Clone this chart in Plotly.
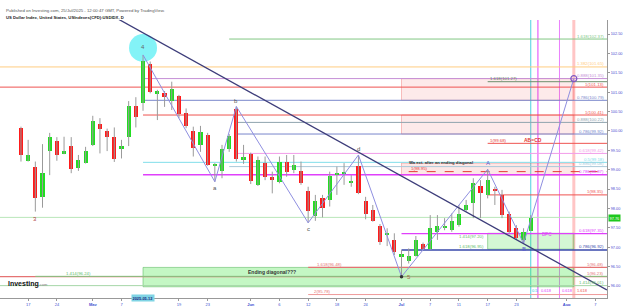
import plotly.graph_objects as go

# ---------------- data ----------------
dates = ["2025-04-16","2025-04-17","2025-04-21","2025-04-22","2025-04-23","2025-04-24","2025-04-25",
         "2025-04-28","2025-04-29","2025-04-30","2025-05-01","2025-05-02","2025-05-05","2025-05-06",
         "2025-05-07","2025-05-08","2025-05-09","2025-05-12","2025-05-13","2025-05-14","2025-05-15",
         "2025-05-16","2025-05-19","2025-05-20","2025-05-21","2025-05-22","2025-05-23","2025-05-26",
         "2025-05-27","2025-05-28","2025-05-29","2025-05-30","2025-06-02","2025-06-03","2025-06-04",
         "2025-06-05","2025-06-06","2025-06-09","2025-06-10","2025-06-11","2025-06-12","2025-06-13",
         "2025-06-16","2025-06-17","2025-06-18","2025-06-19","2025-06-20","2025-06-23","2025-06-24",
         "2025-06-25","2025-06-26","2025-06-27","2025-06-30","2025-07-01","2025-07-02","2025-07-03",
         "2025-07-04","2025-07-07","2025-07-08","2025-07-09","2025-07-10","2025-07-11","2025-07-14",
         "2025-07-15","2025-07-16","2025-07-17","2025-07-18","2025-07-21","2025-07-22","2025-07-23",
         "2025-07-24","2025-07-25"]
future_dates = ["2025-07-28","2025-07-29","2025-07-30","2025-07-31","2025-08-01","2025-08-04",
                "2025-08-05","2025-08-06","2025-08-07","2025-08-08"]

opens = [100.07,99.23,99.08,98.30,99.48,99.75,99.41,99.61,99.05,99.18,99.65,100.18,100.00,99.84,
         99.53,99.85,100.65,100.71,101.73,100.96,100.97,100.78,100.91,100.46,100.00,99.65,99.89,99.10,
         98.97,99.53,100.56,99.25,99.41,98.60,99.17,98.80,98.69,99.19,98.98,98.96,98.46,97.81,
         98.26,98.22,98.88,98.90,98.68,99.10,98.18,97.96,97.56,97.34,97.19,96.77,96.64,96.77,
         97.08,96.95,97.40,97.51,97.44,97.57,97.96,98.13,98.58,98.35,98.49,98.35,97.85,97.49,
         97.19,97.43]
highs = [100.11,99.77,99.21,99.66,99.95,99.84,99.85,99.84,99.38,99.59,100.39,100.33,100.06,100.09,
         99.77,100.77,100.87,101.96,101.79,101.06,101.03,101.27,100.93,100.58,100.11,100.13,99.95,99.17,
         99.64,99.92,100.63,99.64,99.44,99.34,99.34,98.95,99.34,99.38,99.38,99.21,98.56,98.35,
         98.35,98.95,99.08,99.17,98.86,99.38,98.30,98.09,97.60,97.49,97.36,96.93,96.97,97.29,
         97.12,97.83,97.83,97.75,97.87,98.09,98.22,98.78,98.73,99.01,98.56,98.48,97.92,97.57,
         97.49,97.83]
lows = [99.21,99.21,97.92,98.02,98.86,99.23,99.40,98.91,98.97,99.16,99.61,99.42,99.48,99.20,
        99.29,99.61,100.09,100.52,100.97,100.28,100.62,100.54,100.33,100.07,99.34,99.46,99.10,98.69,
        98.78,99.46,99.21,99.15,98.63,98.58,98.73,98.39,98.65,98.82,98.91,98.61,97.63,97.68,
        97.77,98.05,98.35,98.61,98.56,98.37,97.72,97.66,97.06,97.03,96.80,96.24,96.58,96.76,
        96.93,96.93,97.19,97.44,97.40,97.53,97.92,97.75,97.75,98.26,98.09,97.75,97.36,97.19,
        97.10,97.42]
closes = [99.38,99.38,98.28,98.92,99.85,99.38,99.48,99.02,99.25,99.47,100.26,100.04,99.84,99.27,
          99.61,100.64,100.35,101.80,101.01,101.03,100.88,101.09,100.44,100.13,99.57,99.98,99.11,99.12,
          99.53,99.87,99.28,99.34,98.72,99.25,98.80,98.75,99.19,98.93,99.13,98.65,97.93,98.19,
          98.02,98.83,98.92,98.93,98.72,98.41,97.86,97.68,97.14,97.38,96.89,96.82,96.77,97.19,
          96.95,97.49,97.54,97.55,97.68,97.86,98.09,98.65,98.39,98.73,98.46,97.83,97.40,97.23,
          97.40,97.76]

tick_dates = ["2025-04-17","2025-04-24","2025-05-01","2025-05-07","2025-05-19","2025-05-23",
              "2025-06-02","2025-06-06","2025-06-12","2025-06-18","2025-06-24","2025-07-01",
              "2025-07-07","2025-07-11","2025-07-17","2025-07-23","2025-08-01","2025-08-07"]
tick_text = ["17","24","<b>May</b>","7","19","23","<b>Jun</b>","6","12","18","24","<b>Jul</b>",
             "7","11","17","23","<b>Aug</b>","7"]
price_ticks = [96.0,96.5,97.0,97.5,98.0,98.5,99.0,99.5,100.0,100.5,101.0,101.5,102.0,102.5]

# fib / level lines: price, start date (None = left edge), colour, width, dash, right label
levels = [
    (102.37, "2025-05-28", "#81c784", 1, "solid", "1.618(102.37)"),
    (101.65, None, "#ffcc80", 1, "solid", "1.382(101.65)"),
    (101.35, "2025-05-12", "#c58fd6", 1, "solid", "0.888(101.35)"),
    (101.27, "2025-07-17", "#6d8f6d", 1, "solid", None),
    (101.13, None, "#ef5350", 1, "solid", "1(101.13)"),
    (100.79, "2025-05-12", "#7986cb", 1, "solid", "0.786(100.79)"),
    (100.41, "2025-05-12", "#ef5350", 1, "solid", "1(100.41)"),
    (100.22, "2025-05-29", "#90a4ae", 1, "solid", "0.888(100.22)"),
    (99.92, "2025-05-29", "#7986cb", 1, "solid", "0.786(99.92)"),
    (99.68, "2025-07-17", "#ef5350", 1, "solid", None),
    (99.42, "2025-05-29", "#f29be9", 1, "solid", "0.618(99.42)"),
    (99.19, "2025-05-12", "#80deea", 1, "solid", "0.5(99.18)"),
    (99.08, "2025-05-28", "#a9c9d9", 1, "solid", "0.886(99.08)"),
    (98.95, "2025-07-02", "#e53935", 1, "dash", None),
    (98.87, "2025-05-12", "#e040fb", 1.5, "solid", "0.786(98.87)"),
    (98.35, "2025-07-17", "#ef5350", 1, "solid", "1(98.35)"),
    (97.77, None, "#b9e6b9", 1, "solid", None),
    (97.35, "2025-07-01", "#e040fb", 1.2, "solid", "0.618(97.35)"),
    (96.93, "2025-07-01", "#3949ab", 1.5, "solid", "0.786(96.92)"),
    (96.48, "2025-06-12", "#e57373", 1.2, "solid", "1(96.48)"),
    (96.24, None, "#e57373", 1.2, "solid", "1(96.23)"),
    (96.25, "2025-04-21", "#81c784", 1, "solid", None),
    (96.01, None, "#a5d6a7", 1, "solid", "1.414(96.01)"),
    (95.78, "2025-06-12", "#ef9a9a", 1, "solid", None),
]
# zones: start, end, low, high, fill, border
zones = [
    ("2025-07-01", "2025-08-04", 100.79, 101.35, "rgba(239,83,80,0.12)", "rgba(239,83,80,0.35)"),
    ("2025-07-01", "2025-08-04", 99.92, 100.41, "rgba(239,83,80,0.12)", "rgba(239,83,80,0.35)"),
    ("2025-07-01", "2025-08-04", 98.86, 99.17, "rgba(239,83,80,0.14)", "rgba(239,83,80,0.35)"),
    ("2025-07-17", "2025-08-04", 96.95, 97.36, "rgba(60,220,60,0.22)", "rgba(76,175,80,0.5)"),
    ("2025-05-12", "2025-08-04", 95.98, 96.48, "rgba(60,230,60,0.30)", "rgba(76,175,80,0.5)"),
]
vlines = [("2025-07-25", "#4dd0e1", 1), ("2025-07-28", "#e040fb", 1),
          ("2025-07-31", "#ea80fc", 1), ("2025-08-04", "rgba(255,90,90,0.35)", 3)]
wave_dates = ["2025-05-12","2025-05-26","2025-05-29","2025-06-12","2025-06-23","2025-07-01",
              "2025-07-17","2025-07-24","2025-08-04"]
wave_prices = [101.96, 98.69, 100.63, 97.63, 99.38, 96.24, 99.01, 97.10, 101.35]
trend_x = [13.5, 81.6]
trend_y = [102.89, 95.90]

# ---------------- build ----------------
all_dates = dates + future_dates
pos = {d: i for i, d in enumerate(all_dates)}
xi = list(range(len(dates)))
X0, X1 = -2.92, 81.62
Y0, Y1 = 95.691, 102.861

fig = go.Figure()

# wicks
wx, wy = [], []
for i in xi:
    wx += [i, i, None]
    wy += [lows[i], highs[i], None]
fig.add_trace(go.Scatter(x=wx, y=wy, mode="lines", line=dict(color="#9a9a9a", width=1),
                         hoverinfo="skip"))
# bodies
base = [min(o, c) for o, c in zip(opens, closes)]
hgt = [max(abs(c - o), 0.035) for o, c in zip(opens, closes)]
cols = ["#22dd22" if c >= o else "#ff1a1a" for o, c in zip(opens, closes)]
fig.add_trace(go.Bar(x=xi, y=hgt, base=base, width=0.58, marker=dict(color=cols, line=dict(width=0))))

# wave lines
fig.add_trace(go.Scatter(x=[pos[d] for d in wave_dates], y=wave_prices, mode="lines",
                         line=dict(color="#8f8fe0", width=1), hoverinfo="skip"))
# trend line
fig.add_trace(go.Scatter(x=trend_x, y=trend_y, mode="lines", line=dict(color="#3d3d7a", width=1.3),
                         hoverinfo="skip"))
# target circle & 5 dot
fig.add_trace(go.Scatter(x=[pos[wave_dates[-1]]], y=[wave_prices[-1]], mode="markers",
                         marker=dict(size=6, color="rgba(0,0,0,0)", line=dict(color="#7e57c2", width=1.2))))
fig.add_trace(go.Scatter(x=[pos[wave_dates[5]]], y=[wave_prices[5]], mode="markers",
                         marker=dict(size=3.5, color="#333")))

shapes = []
for d0, d1, lo, hi, fc, bc in zones:
    shapes.append(dict(type="rect", xref="x", yref="y", x0=pos[d0], x1=pos[d1], y0=lo, y1=hi,
                       fillcolor=fc, line=dict(color=bc, width=1), layer="below"))
for p, d0, c, w, dash, lab in levels:
    shapes.append(dict(type="line", xref="x", yref="y", x0=(pos[d0] if d0 else X0), x1=X1, y0=p, y1=p,
                       line=dict(color=c, width=w, dash=dash), layer="below"))
for d, c, w in vlines:
    shapes.append(dict(type="line", xref="x", yref="paper", x0=pos[d], x1=pos[d], y0=0, y1=1,
                       line=dict(color=c, width=w), layer="below"))
# cyan circle around wave 4
shapes.append(dict(type="circle", xref="x", yref="y", xsizemode="pixel", ysizemode="pixel",
                   xanchor=pos[wave_dates[0]], yanchor=wave_prices[0] + 0.18,
                   x0=-14, x1=14, y0=-14, y1=14, fillcolor="rgba(100,240,245,0.8)",
                   line=dict(width=0), layer="below"))

ann = []
F = "Arial"
def A(**k):
    k.setdefault("showarrow", False)
    ann.append(k)

for p, d0, c, w, dash, lab in levels:
    if lab:
        A(x=X1 - 0.2, y=p, xref="x", yref="y", text=lab, xanchor="right", yanchor="bottom",
          yshift=-1.5, font=dict(size=4.3, color=c if c not in ("#b9e6b9", "#a5d6a7") else "#66bb6a", family=F))

# inner labels
A(x=pos["2025-07-17"] + 0.1, y=101.27, text="1.618(101.27)", xanchor="left", yanchor="bottom", yshift=-1.5,
  font=dict(size=4.3, color="#5f7f5f", family=F))
A(x=pos["2025-07-17"] + 0.1, y=99.68, text="1(99.68)", xanchor="left", yanchor="bottom", yshift=-1.5,
  font=dict(size=4.3, color="#e53935", family=F))
A(x=pos["2025-07-25"] + 0.3, y=99.77, text="<b>AB=CD</b>", xanchor="center", font=dict(size=5, color="#e53935", family=F))
A(x=pos["2025-07-02"], y=98.95, text="1(98.95)", xanchor="left", yanchor="bottom", yshift=-1.5,
  font=dict(size=4.3, color="#e53935", family=F))
A(x=pos["2025-07-02"] - 0.2, y=99.19, text="<b>Wa ext. after an ending diagonal</b>", xanchor="left",
  yanchor="middle", font=dict(size=4.2, color="#333", family=F))
A(x=pos["2025-07-28"] + 1.2, y=97.32, text="BPC", xanchor="center", font=dict(size=4.6, color="#e040fb", family=F))
A(x=pos["2025-07-17"] - 0.2, y=97.20, text="1.414(97.20)", xanchor="right", yanchor="bottom", yshift=-1.5,
  font=dict(size=4.3, color="#66bb6a", family=F))
A(x=pos["2025-07-17"] - 0.2, y=96.95, text="1.618(96.95)", xanchor="right", yanchor="bottom", yshift=-1.5,
  font=dict(size=4.3, color="#66bb6a", family=F))
A(x=pos["2025-06-17"], y=96.48, text="1.618(96.48)", xanchor="center", yanchor="bottom", yshift=-1.5,
  font=dict(size=4.3, color="#e57373", family=F))
A(x=pos["2025-06-16"], y=95.78, text="2(95.78)", xanchor="center", yanchor="bottom", yshift=-1.5,
  font=dict(size=4.3, color="#e57373", family=F))
A(x=pos["2025-04-29"], y=96.25, text="1.414(96.24)", xanchor="center", yanchor="bottom", yshift=-1.5,
  font=dict(size=4.3, color="#66bb6a", family=F))
A(x=pos["2025-06-05"], y=96.36, text="<b>Ending diagonal???</b>", xanchor="center",
  font=dict(size=5, color="#333", family=F))

# wave labels
wl = [("3", pos["2025-04-21"], 97.92, 0, -7, "#b0413e"),
      ("4", pos["2025-05-12"], 101.96, 0, 8, "#666"),
      ("a", pos["2025-05-26"], 98.69, 0, -6, "#555"),
      ("b", pos["2025-05-29"], 100.63, 0, 6, "#555"),
      ("c", pos["2025-06-12"], 97.63, 0, -6, "#555"),
      ("d", pos["2025-06-23"], 99.38, 0, 6, "#555"),
      ("5", pos["2025-07-01"], 96.24, 7, 0, "#a0704a"),
      ("A", pos["2025-07-17"], 99.01, 0, 6, "#5c5ccc"),
      ("B", pos["2025-07-24"], 97.10, 0, -6, "#5c5ccc")]
for t, x_, y_, xs, ys, c in wl:
    A(x=x_, y=y_, text=t, xshift=xs, yshift=ys, font=dict(size=6, color=c, family=F))

# time fib labels
def py(ypx):
    return (298 - ypx) / 278
A(x=pos["2025-07-25"] - 0.1, y=py(295), xref="x", yref="paper", text="0.5", xanchor="left",
  font=dict(size=4, color="#26c6da", family=F))
A(x=pos["2025-07-28"] + 0.15, y=py(295), xref="x", yref="paper", text="0.618", xanchor="left",
  font=dict(size=4, color="#e040fb", family=F))
A(x=pos["2025-07-31"] + 0.1, y=py(295), xref="x", yref="paper", text="0.618", xanchor="left",
  font=dict(size=4, color="#e040fb", family=F))
A(x=pos["2025-08-04"] + 0.15, y=py(295), xref="x", yref="paper", text="1.618", xanchor="left",
  font=dict(size=4, color="#ef5350", family=F))

# highlighted date
A(x=pos["2025-05-12"], y=py(301.5), xref="x", yref="paper", text="<b>2025-05-12</b>",
  bgcolor="#7fd4e4", borderpad=0.5, font=dict(size=3.9, color="#1a237e", family=F))
# last price tag
A(x=1.0, y=closes[-1], xref="paper", yref="y", text="97.76", xanchor="left", bgcolor="#1ec81e",
  borderpad=0.5, xshift=1, font=dict(size=3.9, color="white", family=F))

# header and logo
A(x=0, y=py(6), xref="paper", yref="paper", xshift=4, xanchor="left",
  text="Published on Investing.com, 25/Jul/2025 - 12:00:47 GMT, Powered by TradingView.",
  font=dict(size=4.3, color="#555", family=F))
A(x=0, y=py(13.5), xref="paper", yref="paper", xshift=4, xanchor="left",
  text="<b>US Dollar Index, United States, USIndexes(CFD):USDIDX, D</b>",
  font=dict(size=4.2, color="#222", family=F))
A(x=0, y=py(290), xref="paper", yref="paper", xshift=6, xanchor="left",
  text="<b>Investing</b><span style='font-size:4px;color:#888'>.com</span>",
  font=dict(size=7, color="#111", family=F))

fig.update_layout(
    width=625, height=306, margin=dict(l=0, r=18, t=20, b=8),
    plot_bgcolor="white", paper_bgcolor="white", showlegend=False,
    shapes=shapes, annotations=ann, bargap=0,
    xaxis=dict(range=[X0, X1], tickvals=[pos[d] for d in tick_dates], ticktext=tick_text,
               tickfont=dict(size=4, color="#3d4fd0", family=F), showgrid=False, zeroline=False,
               showline=True, linecolor="#999", linewidth=1, ticks="outside", ticklen=2,
               tickcolor="#999", fixedrange=True),
    yaxis=dict(range=[Y0, Y1], side="right", tickvals=price_ticks,
               ticktext=["%.2f" % v for v in price_ticks],
               tickfont=dict(size=3.8, color="#4a4ad0", family=F), showgrid=False, zeroline=False,
               showline=True, linecolor="#999", linewidth=1, ticks="outside", ticklen=2,
               tickcolor="#999", fixedrange=True),
)
fig.write_html("out.html")
